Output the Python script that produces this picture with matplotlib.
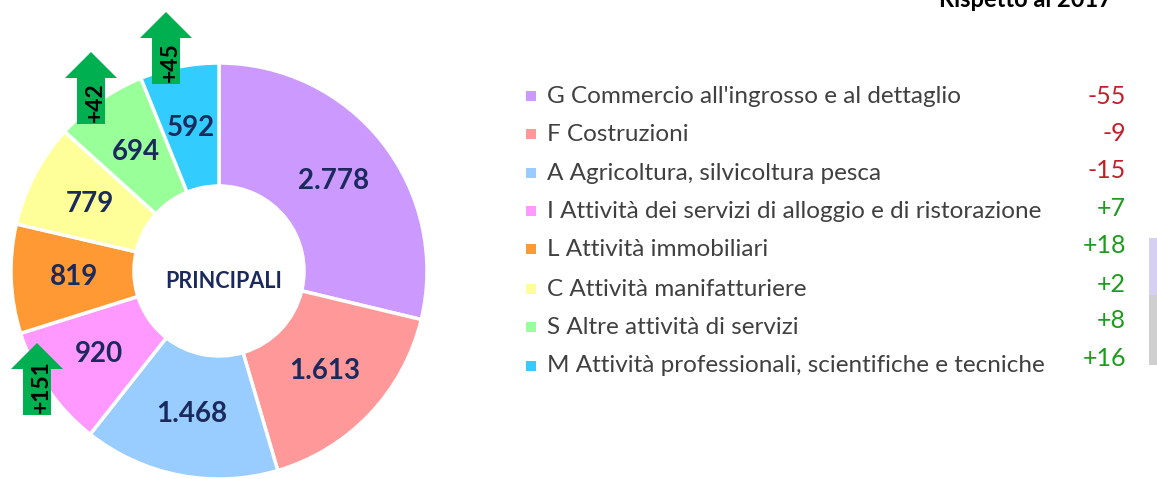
import matplotlib
matplotlib.use("Agg")
import matplotlib.pyplot as plt
from matplotlib.patches import Polygon, Rectangle

# ---------------- data ----------------
categories = [
    "G Commercio all'ingrosso e al dettaglio",
    "F Costruzioni",
    "A Agricoltura, silvicoltura pesca",
    "I Attività dei servizi di alloggio e di ristorazione",
    "L Attività immobiliari",
    "C Attività manifatturiere",
    "S Altre attività di servizi",
    "M Attività professionali, scientifiche e tecniche",
]
values = [2778, 1613, 1468, 920, 819, 779, 694, 592]
value_labels = ["2.778", "1.613", "1.468", "920", "819", "779", "694", "592"]
changes = ["-55", "-9", "-15", "+7", "+18", "+2", "+8", "+16"]
arrow_labels = ["+42", "+45", "+151"]
center_label = "PRINCIPALI"
header = "Rispetto al 2017"

# ---------------- style ----------------
colors = ["#CC99FF", "#FF9999", "#99CCFF", "#FF99FF",
          "#FF9933", "#FFFF99", "#99FF99", "#33CCFF"]
navy = "#1B2A5C"
red = "#C0202A"
green = "#1E9A1E"
arrow_green = "#00B050"
FONT = ["Lato", "DejaVu Sans"]

W, H = 1157, 479
fig = plt.figure(figsize=(W / 100, H / 100), dpi=100)
ax = fig.add_axes([0, 0, 1, 1])


def Y(y):
    return H - y


label_iter = iter(value_labels)
R = 208
r_in = 85
wedges, texts, autotexts = ax.pie(
    values, colors=colors, startangle=90, counterclock=False,
    center=(219, Y(271)), radius=R,
    wedgeprops=dict(width=R - r_in, edgecolor="white", linewidth=2.5),
    autopct=lambda p: next(label_iter), pctdistance=0.70,
    textprops=dict(fontsize=20, fontweight="bold", color=navy, family=FONT),
)
ax.set_xlim(0, W)
ax.set_ylim(0, H)
ax.set_aspect("auto")
ax.axis("off")

ax.text(224, Y(282), center_label, ha="center", va="center", fontsize=15.5,
        fontweight="bold", color=navy, family=FONT)

# ---------------- arrows ----------------
arrow_layout = [(91, 52), (166, 12), (37, 343)]  # (center x, top y) in px
head_w, head_h, shaft_w, total_h = 52, 26, 28, 72
for (cx, top), lab in zip(arrow_layout, arrow_labels):
    pts = [
        (cx, top), (cx + head_w / 2, top + head_h), (cx + shaft_w / 2, top + head_h),
        (cx + shaft_w / 2, top + total_h), (cx - shaft_w / 2, top + total_h),
        (cx - shaft_w / 2, top + head_h), (cx - head_w / 2, top + head_h),
    ]
    ax.add_patch(Polygon([(x, Y(y)) for x, y in pts], closed=True,
                         facecolor=arrow_green, edgecolor="none", zorder=10))
    ax.text(cx + 4, Y(top + total_h - 2), lab, rotation=90, ha="center",
            va="bottom", fontsize=16.5, fontweight="bold", color="black",
            family=FONT, zorder=11)

# ---------------- legend ----------------
row_y = [96, 134, 173, 211, 249, 289, 327, 366]
chg_y = [96, 133, 170, 208, 245, 284, 321, 359]
for i, (cat, col) in enumerate(zip(categories, colors)):
    ax.add_patch(Rectangle((526, Y(row_y[i]) - 5), 10, 10, facecolor=col,
                           edgecolor="none"))
    ax.text(547, Y(row_y[i]), cat, ha="left", va="center", fontsize=17.5,
            color="#404040", family=FONT)
    c = changes[i]
    ax.text(1126, Y(chg_y[i]), c, ha="right", va="center", fontsize=18,
            color=red if c.startswith("-") else green, family=FONT)

# header (partly cut at top edge, as in the reference)
ax.text(1112, Y(7), header, ha="right", va="baseline", fontsize=17,
        fontweight="bold", color="black", family=FONT)

# partial neighbouring graphic at right edge
ax.add_patch(Rectangle((1149, Y(295)), 10, 57, facecolor="#D6D0F2", edgecolor="none"))
ax.add_patch(Rectangle((1149, Y(365)), 10, 70, facecolor="#CFCFCF", edgecolor="none"))

fig.savefig("out.png", dpi=100)
